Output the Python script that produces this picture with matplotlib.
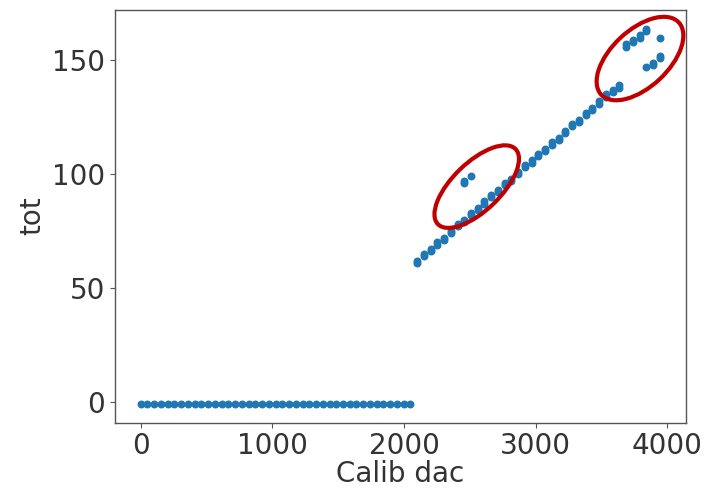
import matplotlib
matplotlib.use("Agg")
import matplotlib.pyplot as plt
from matplotlib.patches import Ellipse
from matplotlib.transforms import ScaledTranslation

# Below threshold: no time-over-threshold measured (flagged as -1)
dac_low = [0, 51, 102, 154, 205, 256, 307, 358, 410, 461, 512, 563, 614, 666,
           717, 768, 819, 870, 922, 973, 1024, 1075, 1126, 1178, 1229, 1280,
           1331, 1382, 1434, 1485, 1536, 1587, 1638, 1690, 1741, 1792, 1843,
           1894, 1946, 1997, 2048]
tot_low = [-1] * len(dac_low)

# Above threshold: main response
dac_high = [2099, 2150, 2202, 2253, 2304, 2355, 2406, 2458, 2509, 2560, 2611,
            2662, 2714, 2765, 2816, 2867, 2918, 2970, 3021, 3072, 3123, 3174,
            3226, 3277, 3328, 3379, 3430, 3482, 3533, 3584, 3635, 3686, 3738,
            3789, 3840, 3891, 3942]
tot_high = [61, 64, 66, 69, 71, 74, 77, 79, 82, 84, 87,
            90, 92, 95, 97, 100, 103, 105, 108, 110, 113, 115,
            118, 121, 123, 126, 128, 131, 134, 136, 138, 156, 158,
            160, 163, 148, 151]
# second hit per dac setting (slightly different tot)
tot_high_b = [62, 65, 67, 70, 72, 75, 78, 80, 83, 85, 88,
              91, 93, 96, 98, 101, 104, 106, 109, 111, 114, 116,
              119, 122, 124, 127, 129, 132, 135, 137, 139, 157, 159,
              161, 164, 149, 152]

# Outliers
dac_out = [2458, 2458, 2509, 3840, 3942]
tot_out = [96, 97, 99, 147, 160]

# Highlighted regions: centre (data units), size (inches), angle (deg)
ring_centres = [(2552, 94.5), (3792, 150.8)]
ring_sizes = [(1.08, 0.48), (1.06, 0.57)]
ring_angles = [44, 43]

fig = plt.figure(figsize=(7.04, 4.88), dpi=100)
ax = fig.add_axes([0.163, 0.134, 0.811, 0.846])

text_c = "#333333"
edge_c = "#555555"
blue = "#1f77b4"
ms = 22

ax.scatter(dac_low, tot_low, s=ms, color=blue)
ax.scatter(dac_high, tot_high, s=ms, color=blue)
ax.scatter(dac_high, tot_high_b, s=ms, color=blue)
ax.scatter(dac_out, tot_out, s=ms, color=blue)

ax.set_xticks([0, 1000, 2000, 3000, 4000])
ax.set_yticks([0, 50, 100, 150])
ax.tick_params(labelsize=20, colors=edge_c, labelcolor=text_c)
for sp in ax.spines.values():
    sp.set_color(edge_c)
    sp.set_linewidth(1.0)

ax.set_xlabel("Calib dac", fontsize=20, color=text_c, labelpad=0)
ax.set_ylabel("tot", fontsize=20, color=text_c)

for (cx, cy), (w, h), ang in zip(ring_centres, ring_sizes, ring_angles):
    tr = fig.dpi_scale_trans + ScaledTranslation(cx, cy, ax.transData)
    e = Ellipse((0, 0), w, h, angle=ang, transform=tr, fill=False,
                edgecolor="#c00000", linewidth=3.0, clip_on=False, zorder=5)
    ax.add_patch(e)

fig.savefig("out.png", dpi=100)
